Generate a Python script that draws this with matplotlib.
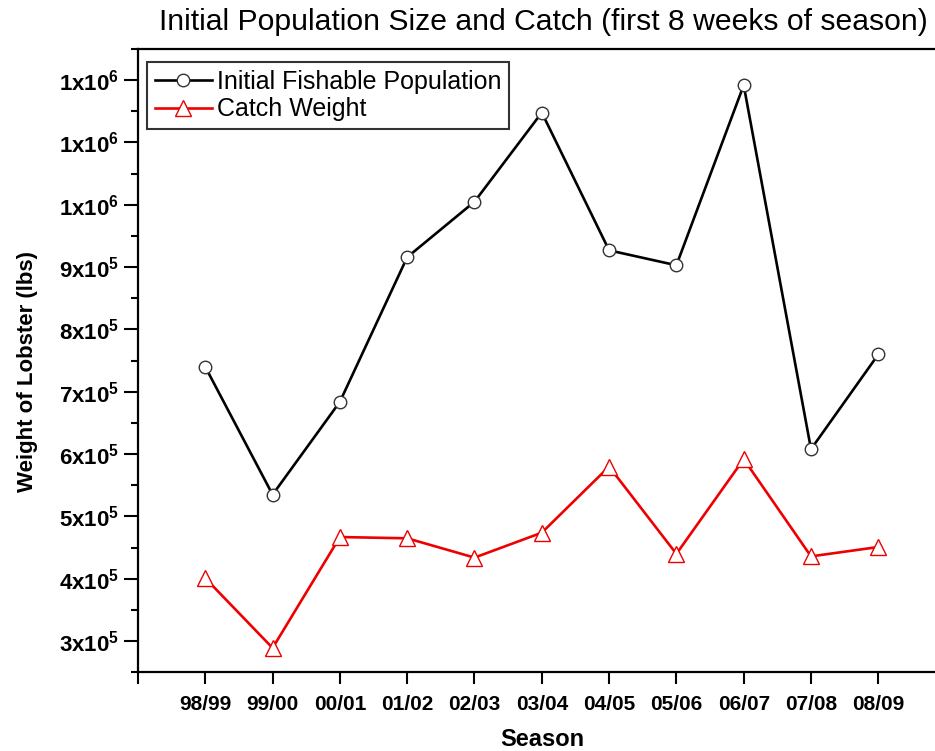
import math
import matplotlib
matplotlib.use('Agg')
import matplotlib.pyplot as plt
from matplotlib.ticker import MultipleLocator, AutoMinorLocator, FuncFormatter

plt.rcParams['font.family'] = ['Liberation Sans', 'DejaVu Sans']
plt.rcParams['mathtext.default'] = 'regular'

seasons = ['98/99', '99/00', '00/01', '01/02', '02/03', '03/04',
           '04/05', '05/06', '06/07', '07/08', '08/09']
population = [740000, 535000, 684000, 916000, 1005000, 1148000,
              927000, 903000, 1192000, 608000, 760000]
catch = [401000, 289000, 467000, 465000, 434000, 474000,
         580000, 440000, 592000, 436000, 451000]


def sci_label(v, pos):
    # Origin-style labels: mantissa rounded to an integer, e.g. 1x10^6
    if v <= 0:
        return ''
    e = int(math.floor(math.log10(v)))
    m = int(round(v / 10 ** e))
    return f'{m}x10$^{{{e}}}$'


fig = plt.figure(figsize=(9.35, 7.51), dpi=100)
W, H = 935, 751
# axes box in pixels: left 138, right 946 (cut off by the figure), top 49, bottom 672
ax = fig.add_axes([138 / W, 1 - 672.3 / H, (945.6 - 138) / W, (672.3 - 49) / H])

x = list(range(len(seasons)))
ax.plot(x, population, color='black', lw=1.9, marker='o', ms=9,
        mfc='white', mec='#333333', mew=1.0, label='Initial Fishable Population')
ax.plot(x, catch, color='#ee0000', lw=1.9, marker='^', ms=11,
        mfc='white', mec='#ee0000', mew=1.0, label='Catch Weight')

ax.set_xlim(-1, 11)
ax.set_ylim(250000, 1250000)

ax.set_xticks([-1] + x)
ax.set_xticklabels([''] + seasons, fontweight='bold', fontsize=15)
ax.yaxis.set_major_locator(MultipleLocator(100000))
ax.yaxis.set_minor_locator(AutoMinorLocator(2))
ax.yaxis.set_major_formatter(FuncFormatter(sci_label))
for lab in ax.get_yticklabels():
    lab.set_fontweight('bold')
    lab.set_fontsize(16)

ax.tick_params(axis='y', which='major', direction='out', length=10, width=1.5, pad=4)
ax.tick_params(axis='y', which='minor', direction='out', length=5, width=1.5)
ax.tick_params(axis='x', which='major', direction='out', length=8.5, width=1.5, pad=8)
for sp in ax.spines.values():
    sp.set_linewidth(1.6)

fig.text(543 / W, 1 - 22 / H,
         'Initial Population Size and Catch (first 8 weeks of season)',
         ha='center', va='center', fontsize=21.7)
fig.text(28 / W, 1 - 371 / H, 'Weight of Lobster (lbs)', rotation=90,
         ha='center', va='center', fontsize=16, fontweight='bold')
fig.text(542 / W, 1 - 740 / H, 'Season', ha='center', va='center',
         fontsize=17, fontweight='bold')

leg = ax.legend(loc='upper left', bbox_to_anchor=(147 / W, 1 - 62 / H),
                bbox_transform=fig.transFigure, fontsize=18, frameon=True,
                fancybox=False, borderpad=0.3, labelspacing=0.15,
                handlelength=2.3, handletextpad=0.2, borderaxespad=0)
leg.get_frame().set_edgecolor('black')
leg.get_frame().set_linewidth(1.5)

fig.savefig('out.png', dpi=100)
